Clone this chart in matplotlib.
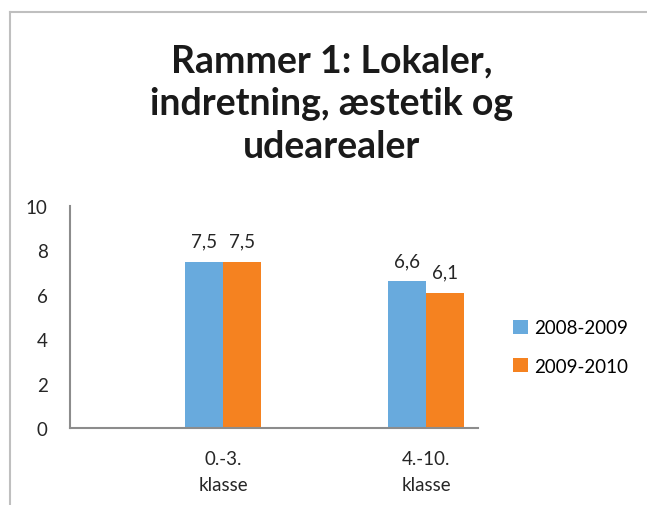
import matplotlib
matplotlib.use("Agg")
import matplotlib.pyplot as plt
from matplotlib.patches import Patch
from matplotlib.lines import Line2D

categories = ["0.-3.\nklasse", "4.-10.\nklasse"]
series_names = ["2008-2009", "2009-2010"]
values_2008 = [7.5, 6.6]
values_2009 = [7.5, 6.1]
labels_2008 = ["7,5", "6,6"]
labels_2009 = ["7,5", "6,1"]
yticks = [0, 2, 4, 6, 8, 10]

blue = "#68AADD"
orange = "#F58220"
axis_col = "#8C8C8C"

plt.rcParams['font.family'] = ['Lato', 'DejaVu Sans']

fig = plt.figure(figsize=(6.47, 5.06), dpi=100)
ax = fig.add_axes([70/647, 1-429/506, 408/647, 222/506])

x = list(range(len(categories)))
w = 0.187
b1 = ax.bar([i - w/2 for i in x], values_2008, width=w, color=blue)
b2 = ax.bar([i + w/2 for i in x], values_2009, width=w, color=orange)

for bars, labs in ((b1, labels_2008), (b2, labels_2009)):
    for r, t in zip(bars, labs):
        ax.annotate(t, (r.get_x() + r.get_width()/2, r.get_height()),
                    xytext=(0, 9), textcoords="offset points",
                    ha="center", va="bottom", fontsize=13.5, color="#262626")

ax.set_xlim(-0.754, 1.256)
ax.set_ylim(0, 10)
ax.set_yticks(yticks)
ax.set_yticklabels([str(v) for v in yticks])
ax.set_xticks(x)
ax.set_xticklabels(categories, linespacing=1.6)
ax.tick_params(axis="y", length=0, pad=16, labelsize=13.5, labelcolor="#262626")
ax.tick_params(axis="x", length=0, pad=16, labelsize=13.5, labelcolor="#262626")
for s in ("top", "right"):
    ax.spines[s].set_visible(False)
for s in ("left", "bottom"):
    ax.spines[s].set_color(axis_col)
    ax.spines[s].set_linewidth(1.5)

fig.text(332/647, 1-44/506, "Rammer 1: Lokaler,\nindretning, æstetik og\nudearealer",
         ha="center", va="top", fontsize=27, fontweight="bold", linespacing=1.32,
         color="#1a1a1a")

handles = [Patch(facecolor=blue), Patch(facecolor=orange)]
fig.legend(handles, series_names, loc="center left",
           bbox_to_anchor=(505/647, 1-348/506), frameon=False, fontsize=13.5,
           handlelength=0.8, handleheight=0.8, handletextpad=0.35,
           labelspacing=1.15, borderaxespad=0)

# chart border
fig.add_artist(Line2D([9.5/647, 9.5/647], [0, 1-12.5/506], transform=fig.transFigure,
                      color="#BFBFBF", lw=1.5))
fig.add_artist(Line2D([9.5/647, 1], [1-12.5/506, 1-12.5/506], transform=fig.transFigure,
                      color="#BFBFBF", lw=1.5))

fig.savefig("out.png", dpi=100)
